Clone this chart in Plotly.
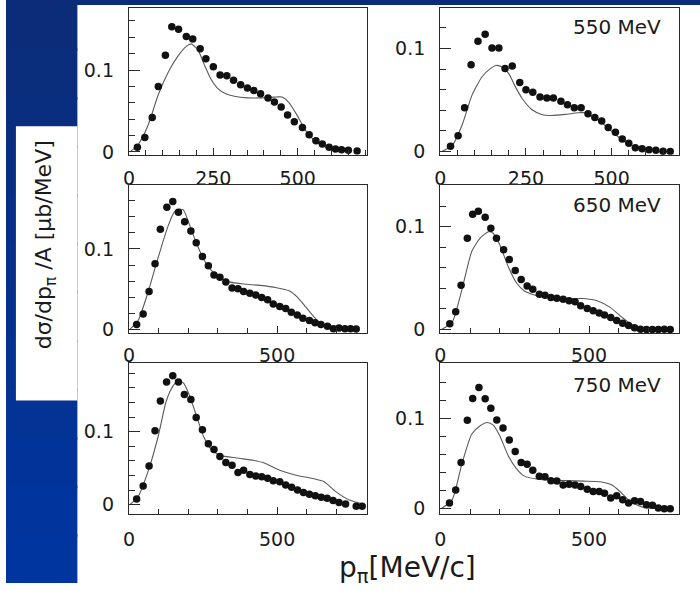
import plotly.graph_objects as go

# ---------------- data ----------------
# top-left panel
tl_x = [25, 47, 69, 87, 108, 127, 147, 170, 189, 211, 228, 250, 270, 290, 310, 331, 351, 370,
        390, 412, 431, 451, 470, 490, 514, 534, 554, 573, 593, 612, 630, 650, 676]
tl_y = [.0057, .0177, .042, .080, .118, .153, .150, .141, .138, .126, .114, .104, .094, .093, .0876,
        .082, .078, .075, .071, .066, .061, .055, .045, .037, .030, .021, .0137, .0096, .0057, .0036,
        .0028, .002, .001]
tl_cx = [3, 27, 57, 86, 116, 145, 170, 184, 204, 223, 243, 262, 287, 312, 351, 390, 429, 454, 473,
         498, 522, 547, 576, 615, 660]
tl_cy = [0, .0088, .033, .069, .097, .117, .129, .132, .125, .107, .089, .078, .071, .068, .066, .066,
         .067, .067, .061, .045, .027, .015, .0069, .0028, .001]

# top-right panel (550 MeV)
tr_x = [30, 52, 71, 90, 110, 131, 151, 171, 189, 210, 232, 250, 270, 291, 311, 330, 352, 371, 391,
        411, 431, 451, 471, 490, 511, 531, 550, 569, 589, 609, 629, 650, 671]
tr_y = [.005, .0154, .0424, .0843, .107, .114, .1005, .1005, .0805, .083, .067, .060, .0576, .0529,
        .052, .052, .0488, .0455, .0424, .0424, .0367, .0329, .0297, .0233, .0186, .0122, .0081,
        .0036, .0027, .0017, .0011, .0002, 0]
tr_cx = [5, 35, 64, 93, 122, 146, 163, 180, 200, 219, 238, 267, 296, 325, 364, 403, 422, 442, 471,
         509, 548, 587, 635, 680]
tr_cy = [0, .0059, .026, .055, .0726, .0805, .0836, .082, .0757, .063, .052, .0408, .036, .035, .036,
         .0376, .0376, .0345, .028, .017, .0074, .0024, .0005, 0]

# middle-left panel
ml_x = [26, 48, 68, 88, 106, 128, 148, 167, 188, 209, 227, 248, 268, 287, 307, 327, 348, 368, 387,
        408, 428, 448, 468, 487, 509, 529, 548, 568, 587, 609, 628, 648, 670, 690, 709, 729, 748, 767]
ml_y = [.0061, .0192, .047, .0817, .1246, .152, .159, .1458, .134, .1225, .1078, .0907, .0792, .0678,
        .065, .0588, .0515, .0506, .047, .045, .0429, .0396, .0368, .0315, .0286, .0261, .0212, .018,
        .0139, .011, .0082, .0061, .004, .0008, .0016, .0008, .0007, .0006]
ml_cx = [3, 31, 64, 98, 131, 153, 164, 183, 203, 226, 253, 281, 309, 342, 387, 442, 498, 542, 570,
         598, 626, 653, 687, 760]
ml_cy = [0, .011, .0457, .0886, .1275, .1458, .149, .149, .1315, .109, .0866, .0723, .0641, .0588,
         .0564, .0547, .0519, .0478, .0396, .0273, .0151, .0057, .0008, 0]

# middle-right panel (650 MeV)
mr_x = [32, 52, 70, 91, 109, 128, 151, 170, 189, 213, 232, 252, 272, 292, 311, 333, 352, 372, 392,
        413, 433, 453, 472, 494, 514, 534, 552, 573, 593, 613, 633, 653, 673, 693, 713, 733, 753, 773]
mr_y = [.0055, .0173, .043, .0888, .112, .115, .109, .0984, .0888, .0776, .068, .0574, .0487, .0423,
        .0391, .0343, .0333, .031, .0304, .0295, .0279, .0269, .0231, .0205, .0183, .016, .0141,
        .0118, .0087, .0061, .0038, .0016, .0003, 0, 0, 0, .0002, 0]
mr_cx = [4, 40, 73, 106, 134, 162, 178, 200, 228, 256, 283, 328, 372, 427, 482, 527, 571, 615, 648,
         682, 770]
mr_cy = [0, .007, .039, .076, .0888, .095, .0936, .0824, .0615, .0455, .0375, .0327, .031, .0301,
         .0301, .0279, .0215, .0109, .0038, 0, 0]

# bottom-left panel
bl_x = [26, 48, 68, 88, 106, 127, 148, 167, 187, 209, 227, 248, 268, 287, 307, 327, 348, 368, 387,
        408, 428, 448, 468, 487, 509, 529, 549, 569, 589, 609, 629, 649, 669, 689, 709, 731, 767, 787]
bl_y = [.0077, .0257, .0532, .1014, .142, .168, .1766, .168, .151, .1442, .1194, .1027, .0834, .0757,
        .0662, .0577, .054, .0442, .0473, .0415, .0392, .0383, .0361, .033, .0316, .027, .0239,
        .0203, .0167, .0145, .0122, .0104, .009, .0059, .0032, .001, -.002, -.002]
bl_cx = [3, 31, 64, 98, 126, 148, 164, 184, 203, 226, 253, 281, 309, 364, 420, 453, 509, 564, 620,
         659, 698, 742, 798]
bl_cy = [0, .0113, .045, .0924, .142, .162, .169, .1667, .151, .124, .0924, .0743, .0676, .064,
         .0608, .0577, .0473, .0405, .036, .0316, .018, .0068, 0]

# bottom-right panel (750 MeV)
br_x = [31, 52, 70, 91, 109, 130, 151, 170, 190, 211, 232, 252, 272, 292, 311, 333, 352, 372, 392,
        413, 433, 453, 472, 494, 514, 534, 552, 573, 593, 613, 633, 653, 673, 693, 713, 733, 753, 773]
br_y = [.0062, .0207, .051, .0978, .1218, .134, .1215, .111, .0981, .0891, .076, .0633, .051, .0491,
        .0425, .036, .0353, .031, .0305, .0262, .0269, .0262, .0244, .0215, .019, .019, .0171, .0117,
        .0142, .0098, .0062, .0087, .008, .0044, .0037, .0008, 0, 0]
br_cx = [3, 40, 73, 106, 134, 159, 178, 200, 228, 256, 283, 328, 372, 427, 482, 538, 577, 604, 626,
         648, 682, 780]
br_cy = [0, .0098, .0498, .0825, .0916, .0953, .0924, .0807, .0589, .0444, .036, .0327, .0316, .031,
         .0305, .0298, .0262, .019, .0117, .0062, .0015, 0]

panel_labels = [None, "550 MeV", None, "650 MeV", None, "750 MeV"]
x_tick_step = [250, 250, 500, 500, 500, 500]
x_minor_step = [50, 50, 100, 100, 100, 100]
x_ranges = [[0, 705], [0, 697], [0, 803], [0, 803], [0, 803], [0, 803]]
y_ranges = [[-0.0036, 0.176], [-0.0033, 0.1395], [-0.005, 0.179],
            [-0.0038, 0.140], [-0.0126, 0.194], [-0.0058, 0.161]]
x_title = "p<sub>π</sub>[MeV/c]"
y_title = "dσ/dp<sub>π</sub> /A [μb/MeV]"

points = [(tl_x, tl_y), (tr_x, tr_y), (ml_x, ml_y), (mr_x, mr_y), (bl_x, bl_y), (br_x, br_y)]
curves = [(tl_cx, tl_cy), (tr_cx, tr_cy), (ml_cx, ml_cy), (mr_cx, mr_cy), (bl_cx, bl_cy), (br_cx, br_cy)]

# ---------------- layout geometry (pixels) ----------------
W, H = 700, 591
col_px = [(124, 364), (438, 679)]
row_px = [(8, 157), (188, 338), (368, 521)]
xlab_standoff = [6, 6, 5, 5, 8, 8]
label_ypx = [27, None, 208, None, 390]

FONT = "DejaVu Sans"
INK = "#1a1a1a"
FRAME = "#2a2a2a"

fig = go.Figure()
layout = dict(width=W, height=H, margin=dict(l=0, r=0, t=0, b=0),
              paper_bgcolor="white", plot_bgcolor="white", showlegend=False)

annotations = []
for i in range(6):
    r, c = divmod(i, 2)
    n = "" if i == 0 else str(i + 1)
    xd = [col_px[c][0] / W, col_px[c][1] / W]
    yd = [1 - row_px[r][1] / H, 1 - row_px[r][0] / H]
    layout["xaxis" + n] = dict(
        domain=xd, range=x_ranges[i], anchor="y" + n, showgrid=False, zeroline=False,
        showline=True, linecolor=FRAME, linewidth=1.3, mirror=True,
        ticks="inside", ticklen=7, tickwidth=1.2, tickcolor=FRAME,
        dtick=x_tick_step[i], tick0=0, ticklabelstandoff=xlab_standoff[i],
        tickfont=dict(family=FONT, size=19, color=INK),
        minor=dict(dtick=x_minor_step[i], tick0=0, ticks="inside", ticklen=5,
                   tickwidth=1, tickcolor=FRAME, showgrid=False))
    layout["yaxis" + n] = dict(
        domain=yd, range=y_ranges[i], anchor="x" + n, showgrid=False, zeroline=False,
        showline=True, linecolor=FRAME, linewidth=1.3, mirror=True,
        ticks="inside", ticklen=11, tickwidth=1.2, tickcolor=FRAME,
        dtick=0.1, tick0=0, ticklabelstandoff=10,
        tickfont=dict(family=FONT, size=19, color=INK),
        minor=dict(dtick=0.02, tick0=0, ticks="inside", ticklen=6,
                   tickwidth=1, tickcolor=FRAME, showgrid=False))
    cx, cy = curves[i]
    fig.add_trace(go.Scatter(x=cx, y=cy, mode="lines", xaxis="x" + n, yaxis="y" + n,
                             line=dict(color="#5a5a5a", width=1.1, shape="spline", smoothing=0.6),
                             hoverinfo="skip"))
    px_, py_ = points[i]
    fig.add_trace(go.Scatter(x=px_, y=py_, mode="markers", xaxis="x" + n, yaxis="y" + n,
                             marker=dict(color="#111111", size=7.5, symbol="circle")))
    if panel_labels[i]:
        annotations.append(dict(text=panel_labels[i], xref="paper", yref="paper",
                                x=663 / W, y=1 - label_ypx[r * 2] / H, xanchor="right", yanchor="middle",
                                showarrow=False, font=dict(family=FONT, size=20, color=INK)))

annotations.append(dict(text=x_title, xref="paper", yref="paper", x=405 / W, y=1 - 577 / H,
                        xanchor="center", yanchor="middle", showarrow=False,
                        font=dict(family=FONT, size=28, color=INK)))
annotations.append(dict(text=y_title, xref="paper", yref="paper", x=40 / W, y=1 - 248 / H,
                        xanchor="center", yanchor="middle", textangle=-90, showarrow=False,
                        font=dict(family=FONT, size=22, color=INK)))
layout["annotations"] = annotations

# slide-style blue background around the figure
shapes = []
top_col = (11, 44, 120)
bot_col = (0, 53, 160)
nb = 12
for k in range(nb):
    t = k / (nb - 1)
    col = "rgb(%d,%d,%d)" % tuple(round(top_col[j] + (bot_col[j] - top_col[j]) * t) for j in range(3))
    shapes.append(dict(type="rect", xref="paper", yref="paper", x0=0, x1=72 / W,
                       y0=max(0, 1 - (k + 1) / nb - 0.004), y1=1 - k / nb,
                       line=dict(width=0), fillcolor=col, layer="below"))
shapes.append(dict(type="rect", xref="paper", yref="paper", x0=0, x1=1, y0=1 - 5 / H, y1=1,
                   line=dict(width=0), fillcolor="rgb(11,44,120)", layer="below"))
shapes.append(dict(type="rect", xref="paper", yref="paper", x0=10 / W, x1=72 / W,
                   y0=1 - 406 / H, y1=1 - 128 / H, line=dict(width=0), fillcolor="white",
                   layer="below"))
layout["shapes"] = shapes

fig.update_layout(**layout)
fig.write_html("out.html", config={"displayModeBar": False},
               post_script="document.body.style.margin='0';document.body.style.overflow='hidden';")
